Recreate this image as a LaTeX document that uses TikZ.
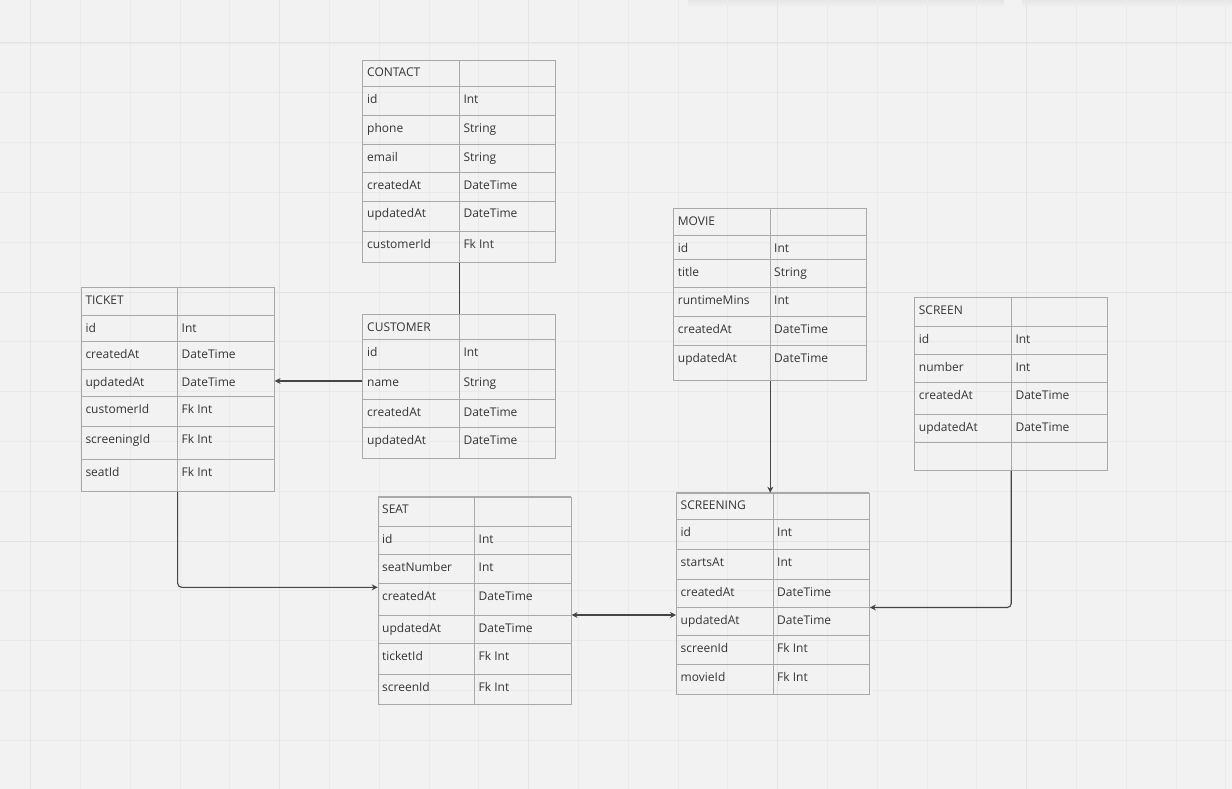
\documentclass[tikz,border=0pt]{standalone}
\usepackage{fontspec}
\setmainfont{Open Sans}
\usetikzlibrary{arrows.meta}
\definecolor{bg}{HTML}{F2F2F2}
\definecolor{gridminor}{HTML}{EAEAEA}
\definecolor{gridmajor}{HTML}{E4E4E4}
\definecolor{linegray}{HTML}{A9A9A9}
\definecolor{arrowgray}{HTML}{454545}
\definecolor{txt}{HTML}{353535}
\definecolor{shadowtop}{HTML}{E6E6E9}

\begin{document}
\begin{tikzpicture}[x=1pt,y=-1pt,
  tbl/.style={draw=linegray,line width=0.9pt,minimum width=193pt,anchor=north west,inner sep=0pt},
  row/.style={draw=linegray,line width=0.9pt},
  fld/.style={anchor=base west,inner sep=0pt,text=txt,font=\fontsize{12}{14}\selectfont},
  link/.style={draw=arrowgray,line width=1.1pt,rounded corners=4pt},
  >={Stealth[length=6pt,width=6pt]}]
% Canvas and grid
\fill[bg] (0,0) rectangle (1232,789);
\useasboundingbox (0,0) rectangle (1232,789);
% Shadows of cards above the view
\shade[top color=shadowtop,bottom color=bg] (688,0) rectangle (1004,8);
\shade[top color=shadowtop,bottom color=bg] (1022,0) rectangle (1232,8);
\foreach \i in {0,...,24}
  \draw[gridminor,line width=0.8pt] ({30.5+49.8*\i},0) -- ({30.5+49.8*\i},789);
\foreach \j in {0,...,15}
  \draw[gridminor,line width=0.8pt] (0,{43+49.8*\j}) -- (1232,{43+49.8*\j});
\foreach \i in {0,...,4}
  \draw[gridmajor,line width=1pt] ({30.5+249*\i},0) -- ({30.5+249*\i},789);
\foreach \j in {0,...,3}
  \draw[gridmajor,line width=1pt] (0,{43+249*\j}) -- (1232,{43+249*\j});

% CONTACT table
\node[tbl,minimum height=202pt] (contact) at (362.3,60) {};
\draw[row] (contact.north) -- (contact.south);
\foreach \y/\f/\t in {60/CONTACT/, 86.7/id/Int, 115.7/phone/String, 144/email/String,
    172.3/createdAt/DateTime, 201/updatedAt/DateTime, 231.7/customerId/Fk Int} {
  \draw[row] (362.3,\y) -- (555.3,\y);
  \node[fld] at (367,\y+17) {\f};
  \node[fld] at (463.3,\y+17) {\t};
}

% CUSTOMER table
\node[tbl,minimum height=143.7pt] (customer) at (362.3,314.3) {};
\draw[row] (customer.north) -- (customer.south);
\foreach \y/\f/\t in {314.3/CUSTOMER/, 339.3/id/Int, 369.3/name/String,
    399/createdAt/DateTime, 427.7/updatedAt/DateTime} {
  \draw[row] (362.3,\y) -- (555.3,\y);
  \node[fld] at (367,\y+17) {\f};
  \node[fld] at (463.3,\y+17) {\t};
}

% TICKET table
\node[tbl,minimum height=203.7pt] (ticket) at (80.7,287.3) {};
\draw[row] (ticket.north) -- (ticket.south);
\foreach \y/\f/\t in {287.3/TICKET/, 315.3/id/Int, 341.3/createdAt/DateTime,
    369.3/updatedAt/DateTime, 396.7/customerId/Fk Int, 426.3/screeningId/Fk Int, 459/seatId/Fk Int} {
  \draw[row] (80.7,\y) -- (273.7,\y);
  \node[fld] at (85.3,\y+17) {\f};
  \node[fld] at (181.5,\y+17) {\t};
}

% SEAT table
\node[tbl,minimum height=207.3pt] (seat) at (377.7,496.7) {};
\draw[row] (seat.north) -- (seat.south);
\foreach \y/\f/\t in {496.7/SEAT/, 526.7/id/Int, 554.3/seatNumber/Int, 583.7/createdAt/DateTime,
    615/updatedAt/DateTime, 643.7/ticketId/Fk Int, 674.3/screenId/Fk Int} {
  \draw[row] (377.7,\y) -- (570.7,\y);
  \node[fld] at (382,\y+17) {\f};
  \node[fld] at (478.5,\y+17) {\t};
}

% MOVIE table
\node[tbl,minimum height=172pt] (movie) at (673.3,208.3) {};
\draw[row] (movie.north) -- (movie.south);
\foreach \y/\f/\t in {208.3/MOVIE/, 235.3/id/Int, 259.7/title/String, 287.7/runtimeMins/Int,
    316.3/createdAt/DateTime, 345.3/updatedAt/DateTime} {
  \draw[row] (673.3,\y) -- (866.3,\y);
  \node[fld] at (677.7,\y+17) {\f};
  \node[fld] at (774,\y+17) {\t};
}

% SCREENING table
\node[tbl,minimum height=201.6pt] (screening) at (676,492.7) {};
\draw[row] (screening.north) -- (screening.south);
\foreach \y/\f/\t in {492.7/SCREENING/, 519.3/id/Int, 549.3/startsAt/Int, 579/createdAt/DateTime,
    607.3/updatedAt/DateTime, 635/screenId/Fk Int, 664.7/movieId/Fk Int} {
  \draw[row] (676,\y) -- (869,\y);
  \node[fld] at (680.5,\y+17) {\f};
  \node[fld] at (777,\y+17) {\t};
}

% SCREEN table
\node[tbl,minimum height=172.7pt] (screen) at (914.3,297.3) {};
\draw[row] (screen.north) -- (screen.south);
\foreach \y/\f/\t in {297.3/SCREEN/, 326.7/id/Int, 354.3/number/Int,
    382.7/createdAt/DateTime, 414.3/updatedAt/DateTime, 442.3//} {
  \draw[row] (914.3,\y) -- (1107.3,\y);
  \node[fld] at (918.7,\y+17) {\f};
  \node[fld] at (1015.3,\y+17) {\t};
}

% Connections
\draw[link] (contact.south) -- (customer.north);
\draw[link,->] (customer.west |- 0,381) -- (ticket.east |- 0,381);
\draw[link,->] (ticket.south) |- (seat.west |- 0,587.3);
\draw[link,<->] (seat.east |- 0,615) -- (screening.west |- 0,615);
\draw[link,->] (movie.south) -- (movie.south |- screening.north);
\draw[link,->] (screen.south) |- (screening.east |- 0,607.5);
\end{tikzpicture}
\end{document}
